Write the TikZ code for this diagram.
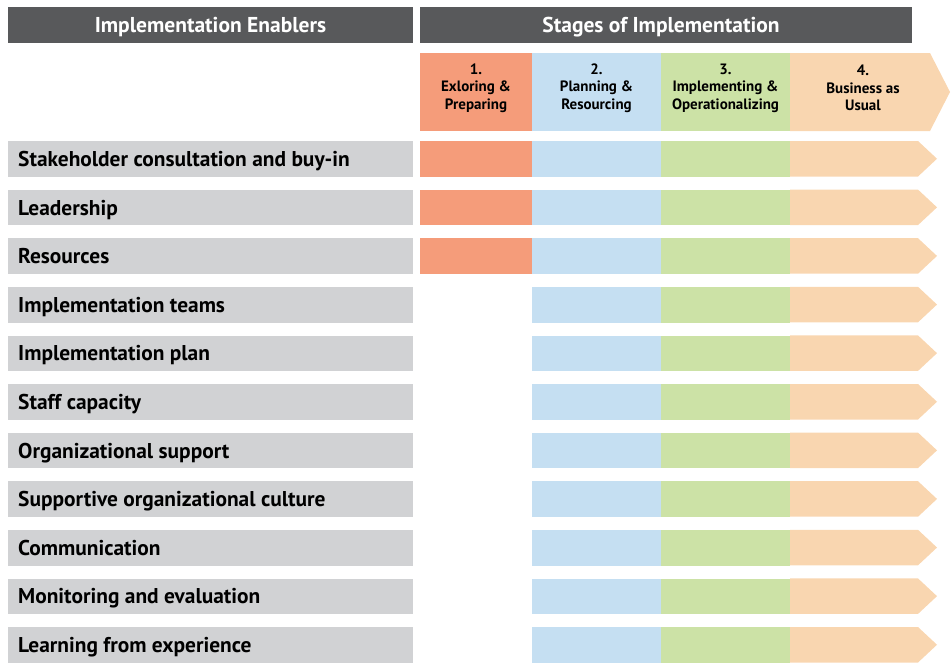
\documentclass[tikz,border=0pt]{standalone}
\usepackage{fontspec}
\setmainfont{PT Sans}
\begin{document}
\begin{tikzpicture}[x=1pt,y=-1pt,
  headbar/.style={fill=hdgray,draw=none,anchor=north west,inner sep=0pt},
  headtext/.style={text=white,inner sep=0pt,anchor=base,font=\bfseries\fontsize{21.5}{24}\selectfont},
  rowbar/.style={fill=rowgray,draw=none,anchor=north west,inner sep=0pt,
    minimum width=405pt,minimum height=35.5pt},
  rowtext/.style={anchor=base west,inner sep=0pt,font=\bfseries\fontsize{21.4}{24}\selectfont},
  cell/.style={draw=none,anchor=north west,inner sep=0pt,minimum height=35.5pt},
  stagetext/.style={align=center,inner sep=0pt,font=\bfseries\fontsize{15}{17.5}\selectfont}]
\definecolor{hdgray}{HTML}{58595B}
\definecolor{rowgray}{HTML}{D1D2D4}
\definecolor{stgA}{HTML}{F59C7A}
\definecolor{stgB}{HTML}{C5DFF2}
\definecolor{stgC}{HTML}{CCE2A6}
\definecolor{stgD}{HTML}{F9D6B0}
\useasboundingbox (0,0) rectangle (952,662);

% column headers
\node[headbar,minimum width=405pt,minimum height=36pt] (hleft) at (8,7) {};
\node[headtext] (hlefttext) at (210.5,32) {Implementation Enablers};
\node[headbar,minimum width=492pt,minimum height=36pt] (hright) at (420,7) {};
\node[headtext] (hrighttext) at (661,32) {Stages of Implementation};

% stage header band
\node[cell,fill=stgA,minimum width=112pt,minimum height=78pt] (s1) at (420,53) {};
\node[cell,fill=stgB,minimum width=129pt,minimum height=78pt] (s2) at (532,53) {};
\node[cell,fill=stgC,minimum width=129pt,minimum height=78pt] (s3) at (661,53) {};
\fill[stgD] (790,53) -- (930,53) -- (950,92) -- (930,131) -- (790,131) -- cycle;
\coordinate (s4) at (790,53);
\node[stagetext] (s1t) at (476,88) {1.\\Exloring \&\\Preparing};
\node[stagetext] (s2t) at (596.5,88) {2.\\Planning \&\\Resourcing};
\node[stagetext] (s3t) at (725.5,88) {3.\\Implementing \&\\Operationalizing};
\node[stagetext] (s4t) at (863,88) {4.\\Business as\\Usual};

% enabler rows
\foreach \lbl [count=\i from 0] in {Stakeholder consultation and buy-in,Leadership,Resources,
  Implementation teams,Implementation plan,Staff capacity,Organizational support,
  Supportive organizational culture,Communication,Monitoring and evaluation,
  Learning from experience}{
  \pgfmathsetmacro{\ytop}{141+48.6*\i}
  \pgfmathsetmacro{\ymid}{\ytop+17.75}
  \pgfmathsetmacro{\ybot}{\ytop+35.5}
  \pgfmathsetmacro{\ybase}{\ytop+25.5}
  \node[rowbar] (r\i) at (8,\ytop) {};
  \node[rowtext] (r\i t) at (18,\ybase) {\lbl};
  \ifnum\i<3
    \node[cell,fill=stgA,minimum width=112pt] (c\i a) at (420,\ytop) {};
  \fi
  \node[cell,fill=stgB,minimum width=129pt] (c\i b) at (532,\ytop) {};
  \node[cell,fill=stgC,minimum width=129pt] (c\i c) at (661,\ytop) {};
  \fill[stgD] (790,\ytop) -- (918,\ytop) -- (937,\ymid) -- (918,\ybot) -- (790,\ybot) -- cycle;
  \coordinate (c\i d) at (790,\ytop);
}
\end{tikzpicture}
\end{document}
